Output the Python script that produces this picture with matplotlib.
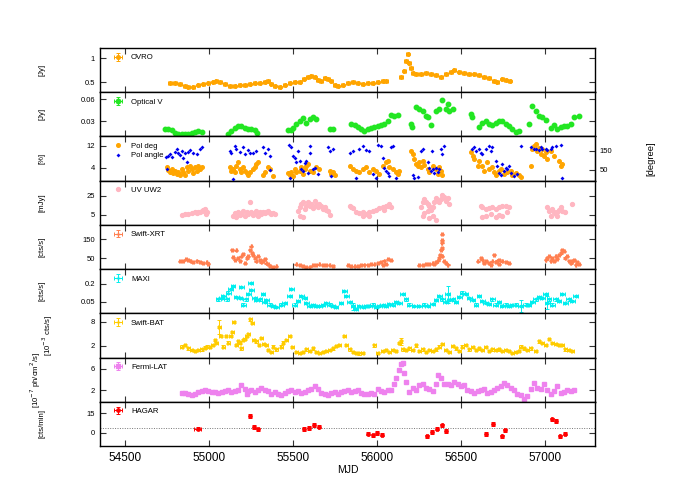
import matplotlib
matplotlib.use("Agg")
import matplotlib.pyplot as plt

plt.rcParams['font.family'] = ['Liberation Sans', 'DejaVu Sans']

# ---------------- data ----------------
ovro_mjd = [54767,54797,54826,54856,54876,54906,54935,54965,54995,55025,55044,55064,55094,55124,55153,55183,55213,55242,55272,55302,55332,55351,55371,55391,55421,55450,55480,55510,55540,55563,55589,55609,55629,55649,55668,55688,55708,55728,55748,55767,55797,55827,55857,55886,55916,55946,55975,56005,56035,56055,56144,56164,56174,56183,56193,56203,56213,56233,56263,56292,56322,56352,56382,56411,56441,56461,56491,56520,56550,56580,56609,56639,56669,56698,56718,56748,56768,56792]
ovro_flux = [0.47,0.49,0.46,0.42,0.39,0.40,0.44,0.46,0.47,0.51,0.53,0.50,0.46,0.42,0.41,0.43,0.44,0.46,0.47,0.49,0.51,0.53,0.46,0.42,0.39,0.44,0.49,0.50,0.51,0.56,0.60,0.63,0.60,0.55,0.53,0.58,0.56,0.53,0.44,0.42,0.44,0.47,0.50,0.47,0.46,0.49,0.47,0.50,0.52,0.53,0.60,0.74,0.94,1.10,0.91,0.79,0.70,0.68,0.68,0.69,0.68,0.65,0.61,0.67,0.72,0.75,0.72,0.69,0.68,0.67,0.65,0.61,0.58,0.53,0.51,0.56,0.54,0.53]

optv_mjd = [54737,54757,54777,54797,54817,54836,54856,54876,54896,54916,54935,54955,
            55114,55133,55153,55173,55193,55213,55233,55252,55272,55286,
            55470,55490,55500,55520,55540,55559,55579,55599,55619,55639,55718,55738,
            55847,55867,55886,55906,55926,55946,55966,55985,56005,56025,56045,56065,56084,56104,56124,
            56203,56207,56233,56253,56273,56292,56302,56322,56352,56372,56391,56411,56421,56431,56451,
            56560,56566,56609,56629,56649,56669,56689,56708,56728,56748,56768,56788,56807,56827,56847,
            56907,56926,56946,56966,56986,57005,57035,57055,57075,57095,57115,57134,57154,57174,57204]
optv_flux = [0.0194,0.0203,0.018,0.0148,0.0134,0.0124,0.0124,0.0134,0.0148,0.0161,0.0171,0.0161,
             0.0134,0.0171,0.0208,0.0235,0.0245,0.0217,0.0194,0.0198,0.018,0.0143,
             0.018,0.0189,0.0217,0.0272,0.0309,0.0346,0.0286,0.0332,0.0355,0.0332,0.0194,0.0194,
             0.0272,0.0254,0.0226,0.0194,0.0171,0.0194,0.0217,0.0226,0.024,0.0254,0.0272,0.0309,0.0383,0.0379,0.0383,
             0.0272,0.0226,0.0503,0.0471,0.0448,0.0379,0.0355,0.0254,0.0448,0.0471,0.0586,0.0471,0.054,0.0448,0.0471,
             0.0402,0.0355,0.0226,0.0286,0.0309,0.0272,0.0254,0.0286,0.030,0.0309,0.0272,0.024,0.0194,0.0161,0.0171,
             0.0272,0.0517,0.0448,0.0379,0.0355,0.0318,0.0217,0.0254,0.0194,0.0226,0.0235,0.024,0.0272,0.0355,0.0379]

pdeg_mjd = [54747,54757,54767,54777,54787,54797,54807,54817,54826,54836,54846,54856,54866,54876,54886,54896,54906,54916,54925,54935,54945,54955,
            55124,55133,55143,55153,55163,55173,55183,55193,55203,55213,55223,55233,55242,55262,55272,55282,55292,55322,55332,55351,55361,55381,
            55470,55480,55490,55500,55510,55520,55540,55550,55559,55569,55579,55589,55599,55619,55639,55658,55718,55728,55738,55748,
            55837,55857,55876,55896,55916,55936,55956,55975,55995,56015,56035,56055,56065,56074,56094,56114,56124,56134,
            56203,56213,56223,56233,56243,56253,56263,56273,56283,56302,56312,56332,56352,56362,56372,56382,56391,
            56560,56570,56580,56600,56609,56629,56639,56659,56669,56689,56698,56708,56728,56738,56758,56778,56798,56807,56827,56847,56857,
            56916,56926,56936,56946,56956,56966,56976,56986,56996,57005,57015,57035,57055,57085,57095,57105]
pdeg_val = [4.2,3.4,2.7,3.6,2.2,3.0,1.9,2.7,1.3,3.6,2.4,1.5,4.2,3.0,4.8,3.6,2.2,4.2,3.0,4.6,3.6,4.2,
            4.2,3.0,3.6,2.4,4.6,6.0,3.6,2.4,4.2,3.0,2.2,1.3,2.7,3.6,4.2,5.4,6.0,1.3,2.4,4.2,3.6,1.0,
            2.2,1.5,2.7,1.0,3.6,2.4,3.0,4.2,1.9,3.6,4.8,5.4,3.0,2.4,4.2,3.6,3.0,1.9,2.4,1.3,
            4.8,3.6,3.0,2.4,3.6,4.2,2.4,3.6,3.0,1.9,4.8,6.0,6.6,4.2,3.6,2.7,1.9,3.0,
            10.2,9.0,7.2,5.4,4.8,6.0,4.2,6.6,5.1,3.6,2.4,4.8,3.6,1.9,4.2,3.0,1.3,
            9.6,8.2,7.2,4.8,6.6,4.6,3.0,6.0,3.6,4.2,2.4,1.3,3.0,3.6,1.9,2.4,3.0,1.3,2.2,1.5,0.7,
            4.6,10.8,12.0,12.6,10.2,11.4,9.0,10.8,8.4,9.6,7.2,10.2,8.4,6.6,4.8,5.4]

pang_mjd = [54741,54747,54757,54767,54777,54797,54807,54817,54826,54836,54846,54856,54866,54876,54886,54906,54925,54945,54955,
            55124,55133,55143,55153,55163,55183,55203,55213,55233,55242,55262,55282,55322,55332,55351,55361,55365,
            55476,55480,55490,55500,55510,55520,55530,55540,55550,55559,55569,55579,55589,55599,55603,55619,55629,55649,55708,55718,55728,55738,
            55837,55857,55876,55896,55916,55936,55956,55975,55995,56005,56025,56035,56045,56055,56065,56074,56084,56094,56114,
            56213,56223,56243,56263,56273,56302,56312,56322,56328,56332,56342,56352,56362,56372,56382,56391,56401,
            56566,56580,56590,56609,56619,56629,56649,56669,56679,56689,56708,56718,56728,56738,56748,56758,56768,56778,56788,56798,56817,56837,56857,
            56916,56936,56946,56966,56976,56986,57005,57015,57035,57045,57065,57095,57105]
pang_val = [120,57,124,132,120,145,159,138,127,150,115,141,89,145,155,138,132,159,168,
            150,138,4,176,159,145,168,132,155,141,138,150,168,141,159,124,50,
            180,10,168,124,115,89,150,97,57,45,85,97,36,176,141,54,62,27,168,150,18,159,
            141,150,10,159,173,155,150,27,10,180,176,115,62,45,36,18,168,176,10,
            22,10,13,150,159,89,62,45,150,54,36,62,39,54,159,132,176,
            159,168,150,162,141,132,159,173,150,168,97,71,36,22,80,45,62,54,71,36,18,27,176,
            168,162,159,155,168,159,162,155,162,168,176,180,10]

uv_mjd = [54836,54856,54876,54896,54916,54925,54935,54945,54955,54965,54975,54981,54985,
          55143,55153,55163,55173,55183,55193,55203,55213,55223,55233,55242,55252,55262,55272,55282,55292,55302,55312,55322,55332,55342,55351,55361,55371,55381,55391,
          55530,55540,55550,55559,55569,55579,55589,55599,55609,55619,55629,55639,55649,55658,55668,55678,55688,55698,55708,55540,55559,55718,
          55837,55847,55857,55876,55896,55916,55936,55956,55975,55995,56015,56035,56045,56055,56065,56074,56084,55916,55956,
          56263,56273,56283,56292,56302,56312,56322,56332,56342,56352,56362,56372,56382,56391,56401,56411,56421,56431,56302,56283,56273,56312,56332,56352,
          56619,56629,56649,56669,56689,56708,56728,56748,56768,56788,56629,56649,56679,56708,56728,56748,56778,
          57015,57025,57045,57055,57065,57075,57085,57095,57105,57124,57164,57035,57075]
uv_flux = [5.0,5.7,6.0,7.1,7.8,6.7,8.5,7.8,9.5,10.5,11.2,6.0,8.5,
           4.3,7.1,2.6,8.5,5.0,6.0,9.5,3.6,7.8,6.0,18.1,8.5,5.0,7.1,9.5,4.3,7.8,6.0,8.5,7.1,7.8,9.1,7.1,6.0,7.1,5.7,
           9.5,12.9,16.4,18.8,11.2,14.7,18.1,14.0,16.4,11.9,19.8,15.4,12.9,16.4,14.0,11.2,12.9,10.5,9.5,4.3,2.6,5.0,
           14.7,12.9,11.9,8.5,7.1,7.8,6.0,8.5,9.5,10.5,11.9,12.9,10.5,14.7,14.0,16.4,12.9,3.6,4.3,
           12.9,18.1,21.6,18.8,16.4,14.7,10.5,12.9,18.1,22.3,19.8,18.1,21.6,25.7,23.3,19.8,22.3,16.4,9.5,7.1,4.3,1.6,3.6,0.2,
           14.0,12.9,11.2,11.9,12.9,11.2,12.9,14.7,14.0,12.9,2.6,4.3,6.0,2.6,5.0,4.3,7.8,
           12.9,9.5,11.2,7.8,6.0,8.5,10.5,12.9,9.5,7.8,16.4,4.3,3.6]

xrt_mjd = [54826,54846,54862,54876,54890,54906,54925,54945,54965,54985,54995,
           55137,55163,55143,55153,55173,55183,55193,55203,55213,55223,55233,55242,55252,55258,55262,55272,55282,55292,55302,55312,55322,55332,55342,55351,55361,55381,55401,
           55520,55540,55559,55579,55599,55619,55639,55658,55678,55698,55718,55738,
           55827,55847,55867,55886,55906,55926,55946,55966,55985,56005,56025,56035,56045,56055,56065,56084,
           56253,56273,56292,56312,56332,56342,56352,56362,56372,56376,56382,56386,56388,56388,56388,56391,56401,56411,56421,
           56600,56619,56629,56639,56649,56669,56679,56689,56698,56708,56718,56728,56728,56748,56768,56788,
           57005,57015,57025,57035,57045,57055,57065,57075,57085,57095,57105,57115,57124,57134,57144,57154,57164,57174,57184,57194,57204]
xrt_rate = [34,38,46,43,34,31,38,31,25,29,22,
            96,92,55,43,52,38,61,73,25,52,61,96,113,78,66,52,34,61,43,31,38,48,25,20,8,4,8,
            20,13,8,3,6,13,17,20,13,17,13,10,
            13,8,8,10,13,17,17,20,20,27,31,17,38,20,45,41,
            13,17,20,20,25,20,31,38,52,69,96,131,104,145,175,61,34,25,17,
            34,52,43,25,38,25,17,34,69,31,38,43,20,34,31,25,
            43,52,61,38,52,34,61,48,69,78,96,87,52,61,38,25,34,43,17,31,20]

maxi_mjd = [55054,55074,55084,55104,55114,55128,55143,55163,55183,55193,55203,55219,55233,55248,55252,55272,55282,55302,55322,55332,55342,55361,55381,55401,55431,55450,55480,55490,55510,55530,55550,55569,55579,55599,55619,55639,55658,55678,55698,55718,55738,55757,55787,55807,55817,55837,55857,55876,55896,55916,55936,55956,55975,55995,56015,56035,56055,56074,56094,56114,56134,56154,56174,56193,56223,56253,56283,56302,56332,56352,56372,56391,56411,56421,56431,56451,56471,56491,56510,56530,56550,56570,56590,56609,56629,56649,56669,56689,56708,56728,56748,56768,56788,56807,56827,56857,56887,56907,56926,56946,56966,56986,57005,57015,57025,57045,57065,57085,57105,57124,57144,57164,57184]
maxi_rate = [0.070,0.079,0.099,0.070,0.128,0.157,0.186,0.090,0.079,0.171,0.027,0.070,0.113,0.206,0.148,0.085,0.062,0.070,0.119,0.050,0.062,0.027,0.012,0.004,0.027,0.041,0.099,0.157,0.027,0.056,0.099,0.079,0.041,0.012,0.021,0.012,0.012,0.021,0.038,0.027,0.012,0.004,0.041,0.142,0.099,0.050,0.012,-0.008,0.012,0.004,0.012,0.012,0.027,0.004,0.012,0.021,0.012,0.033,0.027,0.050,0.041,0.113,0.070,0.027,0.012,0.012,0.027,0.012,0.033,0.062,0.099,0.070,0.050,0.113,0.062,0.070,0.050,0.090,0.128,0.113,0.079,0.062,0.027,0.099,0.056,0.041,0.033,0.070,0.027,0.050,0.012,0.027,0.012,0.021,0.027,0.012,0.027,0.021,0.050,0.070,0.090,0.079,0.113,0.041,0.070,0.027,0.070,0.056,0.113,0.041,0.070,0.056,0.099]
maxi_big_mjd = [55857,56421,56857,57015]
maxi_big_rate = [0.012,0.113,0.012,0.041]
maxi_big_err = [0.03,0.07,0.05,0.055]

bat_mjd = [54836,54856,54876,54896,54916,54935,54955,54975,54989,55005,55021,55035,55044,55060,55068,55084,55100,55114,55128,55139,55147,55163,55173,55183,55193,55203,55213,55223,55233,55246,55258,55266,55282,55298,55312,55326,55342,55351,55371,55381,55401,55431,55441,55460,55480,55496,55520,55540,55559,55579,55599,55619,55639,55658,55678,55698,55718,55738,55757,55777,55807,55817,55837,55857,55876,55896,55916,55985,56005,56035,56055,56074,56094,56114,56134,56144,56154,56174,56193,56213,56233,56253,56273,56292,56312,56332,56352,56372,56391,56411,56431,56451,56471,56491,56510,56530,56550,56570,56590,56609,56629,56649,56669,56689,56708,56728,56748,56768,56788,56807,56827,56847,56857,56877,56897,56916,56946,56966,56986,57005,57025,57045,57065,57085,57105,57124,57144,57164]
bat_rate = [1.8,2.2,1.4,1.0,0.8,1.0,1.15,1.6,1.8,1.7,2.25,3.5,2.7,6.7,4.5,1.8,4.5,2.8,4.4,5.4,7.9,2.25,3.1,2.8,1.4,3.5,3.7,4.4,5.0,8.6,7.7,3.5,3.1,2.25,3.9,2.5,2.25,1.0,0.55,1.8,1.15,1.8,2.8,3.4,4.5,1.7,0.55,0.3,0.55,1.15,0.8,1.4,0.55,0.3,0.55,0.8,1.0,1.4,2.0,2.25,4.4,2.25,1.15,0.55,0.3,0.15,0.3,2.1,0.3,0.8,1.0,0.55,1.0,0.8,2.7,3.1,1.15,1.0,1.4,1.0,2.1,0.8,1.15,0.55,1.0,0.8,1.15,1.8,2.5,1.0,0.55,2.0,1.4,0.8,1.8,2.25,1.15,1.7,1.0,1.4,1.0,1.7,0.8,1.15,1.0,1.15,0.8,1.0,0.8,0.3,0.55,0.8,1.8,1.4,1.0,1.4,0.8,3.1,2.7,2.25,3.7,2.7,2.5,2.25,2.25,1.15,1.0,0.8]
bat_big_mjd = [55060,56144]
bat_big_rate = [6.7,3.1]
bat_big_err = [1.8,0.8]

lat_mjd = [54836,54856,54876,54896,54916,54935,54955,54975,54995,55015,55035,55054,55074,55094,55114,55133,55153,55173,55193,55213,55223,55233,55252,55272,55292,55312,55332,55351,55371,55391,55411,55431,55450,55470,55490,55510,55530,55550,55569,55589,55609,55629,55649,55668,55688,55708,55728,55748,55767,55787,55807,55827,55847,55867,55886,55906,55926,55946,55966,55985,56005,56025,56045,56065,56084,56104,56114,56130,56144,56154,56164,56174,56193,56213,56233,56253,56273,56292,56312,56332,56352,56362,56382,56401,56421,56441,56461,56481,56500,56520,56540,56560,56580,56600,56619,56639,56659,56679,56698,56718,56738,56758,56778,56798,56817,56837,56857,56877,56897,56916,56936,56956,56976,56996,57015,57035,57055,57075,57095,57115,57134,57154,57174]
lat_flux = [1.5,1.5,1.4,1.2,1.4,1.6,1.9,2.1,1.9,1.6,1.7,1.55,1.75,1.9,2.0,1.75,1.9,2.1,2.9,2.3,1.4,1.9,2.1,1.7,2.1,2.5,2.0,1.9,1.4,1.6,1.4,1.2,1.5,1.9,2.1,1.7,1.9,1.55,1.7,2.1,2.3,2.7,2.25,1.5,1.4,1.2,1.5,1.6,1.4,1.7,1.9,2.0,1.7,1.9,2.0,1.5,1.4,1.25,1.5,1.4,2.3,1.9,1.6,2.0,2.1,3.2,4.2,5.7,6.9,7.0,5.1,3.5,1.7,2.5,2.0,2.9,3.1,2.5,2.3,1.9,3.2,4.8,4.2,3.2,3.1,2.9,3.5,3.2,2.7,2.9,2.1,1.9,1.5,1.9,2.1,2.3,1.5,1.7,2.1,2.5,2.7,3.35,2.9,2.5,2.1,1.4,1.1,0.3,0.9,2.3,3.35,2.5,2.3,3.1,2.1,1.4,1.9,2.7,1.5,1.7,2.0,1.9,2.1]

hagar_mjd = [54933,55243,55270,55291,55567,55593,55628,55654,55949,55976,56002,56031,56299,56326,56358,56390,56413,56652,56690,56743,56764,57042,57066,57090,57122]
hagar_rate = [3.3,12.7,4.6,2.8,3.0,3.8,6.1,4.8,-0.5,-1.8,0.0,-1.3,-2.5,0.8,3.3,5.8,1.3,-0.8,6.9,-2.5,2.0,10.2,8.9,-2.5,-0.5]
hagar_xerr = [20,4,4,4,4,4,4,4,4,4,4,4,4,4,4,4,4,4,4,4,4,4,4,4,4]
hagar_level = 3.4

xlim = (54350, 57300)
xticks = [54500, 55000, 55500, 56000, 56500, 57000]

# ---------------- figure ----------------
fig = plt.figure(figsize=(7, 4.9), dpi=100)
gs = fig.add_gridspec(9, 1, left=0.1429, right=0.85, top=0.902, bottom=0.0898, hspace=0)
axes = [fig.add_subplot(gs[i, 0]) for i in range(9)]
for a in axes[1:]:
    a.sharex(axes[0])

TICK = 5.5
LEG = 5.6

def style(ax, ylim, yticks, ylab, ylab_x=-0.11):
    ax.set_xlim(*xlim)
    ax.set_xticks(xticks)
    ax.set_ylim(*ylim)
    ax.set_yticks(yticks)
    ax.tick_params(axis='both', direction='in', length=4, width=0.8, color='#333333',
                   top=True, right=True, labelsize=TICK)
    ax.tick_params(axis='x', labelbottom=False)
    for s in ax.spines.values():
        s.set_linewidth(1.0)
    ax.set_ylabel(ylab, fontsize=5.6)
    ax.yaxis.set_label_coords(ylab_x, 0.5)

def leg(ax, handles=None, labels=None):
    kw = dict(loc='upper left', bbox_to_anchor=(0.018, 0.98), frameon=False, fontsize=LEG,
              handlelength=1.0, handletextpad=1.2, borderaxespad=0.35, borderpad=0.3,
              labelspacing=0.25)
    if handles is None:
        ax.legend(**kw)
    else:
        ax.legend(handles, labels, **kw)

ekw = dict(capsize=1.2, elinewidth=0.7, capthick=0.7, linestyle='none')

# OVRO
ax = axes[0]
ax.errorbar(ovro_mjd, ovro_flux, xerr=10, yerr=0.02, fmt='o', ms=2.6, color='#ffa500',
            label='OVRO', **ekw)
style(ax, (0.285, 1.22), [0.5, 1], '[Jy]')
ax.set_yticklabels(['0.5', '1'])
leg(ax)

# Optical V
ax = axes[1]
ax.errorbar(optv_mjd, optv_flux, xerr=6, yerr=0.0012, fmt='o', ms=3.2, color='#22e622',
            label='Optical V', **ekw)
style(ax, (0.0097, 0.0697), [0.03, 0.06], '[Jy]')
ax.set_yticklabels(['0.03', '0.06'])
leg(ax)

# Polarisation
ax = axes[2]
h1, = ax.plot(pdeg_mjd, pdeg_val, 'o', ms=2.6, color='#ffa500', label='Pol deg')
style(ax, (-0.6, 15.4), [4, 12], '[%]')
ax.tick_params(axis='y', right=False)
axr = ax.twinx()
h2, = axr.plot(pang_mjd, pang_val, 'D', ms=2.0, color='#0000ee', mew=0, label='Pol angle')
axr.set_ylim(-6, 225)
axr.set_yticks([50, 150])
axr.tick_params(axis='y', direction='in', length=4, width=0.8, color='#333333', labelsize=TICK)
axr.set_ylabel('[degree]', fontsize=6.8, rotation=90)
axr.yaxis.set_label_coords(1.103, 0.5)
leg(ax, [h1, h2], ['Pol deg', 'Pol angle'])

# UV
ax = axes[3]
ax.plot(uv_mjd, uv_flux, 'o', ms=2.8, color='#ffb6c1', label='UV UW2')
style(ax, (-5.4, 40.5), [5, 25], '[mJy]')
leg(ax)

# Swift-XRT
ax = axes[4]
ax.errorbar(xrt_mjd, xrt_rate, xerr=5, yerr=3, fmt='+', ms=3, color='#ff7f50',
            label='Swift-XRT', **ekw)
style(ax, (-6, 224), [50, 150], '[cts/s]')
leg(ax)

# MAXI
ax = axes[5]
ax.errorbar(maxi_mjd, maxi_rate, xerr=14, yerr=0.009, fmt='+', ms=2.5, color='#00eeee',
            label='MAXI', **ekw)
ax.errorbar(maxi_big_mjd, maxi_big_rate, yerr=maxi_big_err, fmt='none', color='#00eeee', **ekw)
style(ax, (-0.047, 0.325), [0.05, 0.2], '[cts/s]')
ax.set_yticklabels(['0.05', '0.2'])
leg(ax)

# Swift-BAT
ax = axes[6]
ax.errorbar(bat_mjd, bat_rate, xerr=8, yerr=0.3, fmt='+', ms=2.5, color='#ffcc00',
            label='Swift-BAT', **ekw)
ax.errorbar(bat_big_mjd, bat_big_rate, yerr=bat_big_err, fmt='none', color='#ffcc00', **ekw)
style(ax, (-0.9, 10.1), [2, 8], '[10$^{-3}$ cts/s]', ylab_x=-0.09)
leg(ax)

# Fermi-LAT
ax = axes[7]
ax.errorbar(lat_mjd, lat_flux, xerr=8, yerr=0.15, fmt='s', ms=2.2, color='#ee82ee',
            label='Fermi-LAT', **ekw)
style(ax, (-0.12, 8.03), [2, 6], '[10$^{-7}$ ph/cm$^2$/s]', ylab_x=-0.115)
leg(ax)

# HAGAR
ax = axes[8]
ax.axhline(hagar_level, color='#777777', lw=0.7, ls=(0, (1, 1.5)))
ax.errorbar(hagar_mjd, hagar_rate, xerr=hagar_xerr, yerr=1.3, fmt='o', ms=2.4, color='#ff0000',
            label='HAGAR', **ekw)
style(ax, (-9.9, 23.6), [0, 15], '[cts/min]')
ax.tick_params(axis='x', labelbottom=True, labelsize=8.5, pad=4)
ax.set_xlabel('MJD', fontsize=7.5, labelpad=1)
leg(ax)

fig.savefig('out.png', dpi=100)
